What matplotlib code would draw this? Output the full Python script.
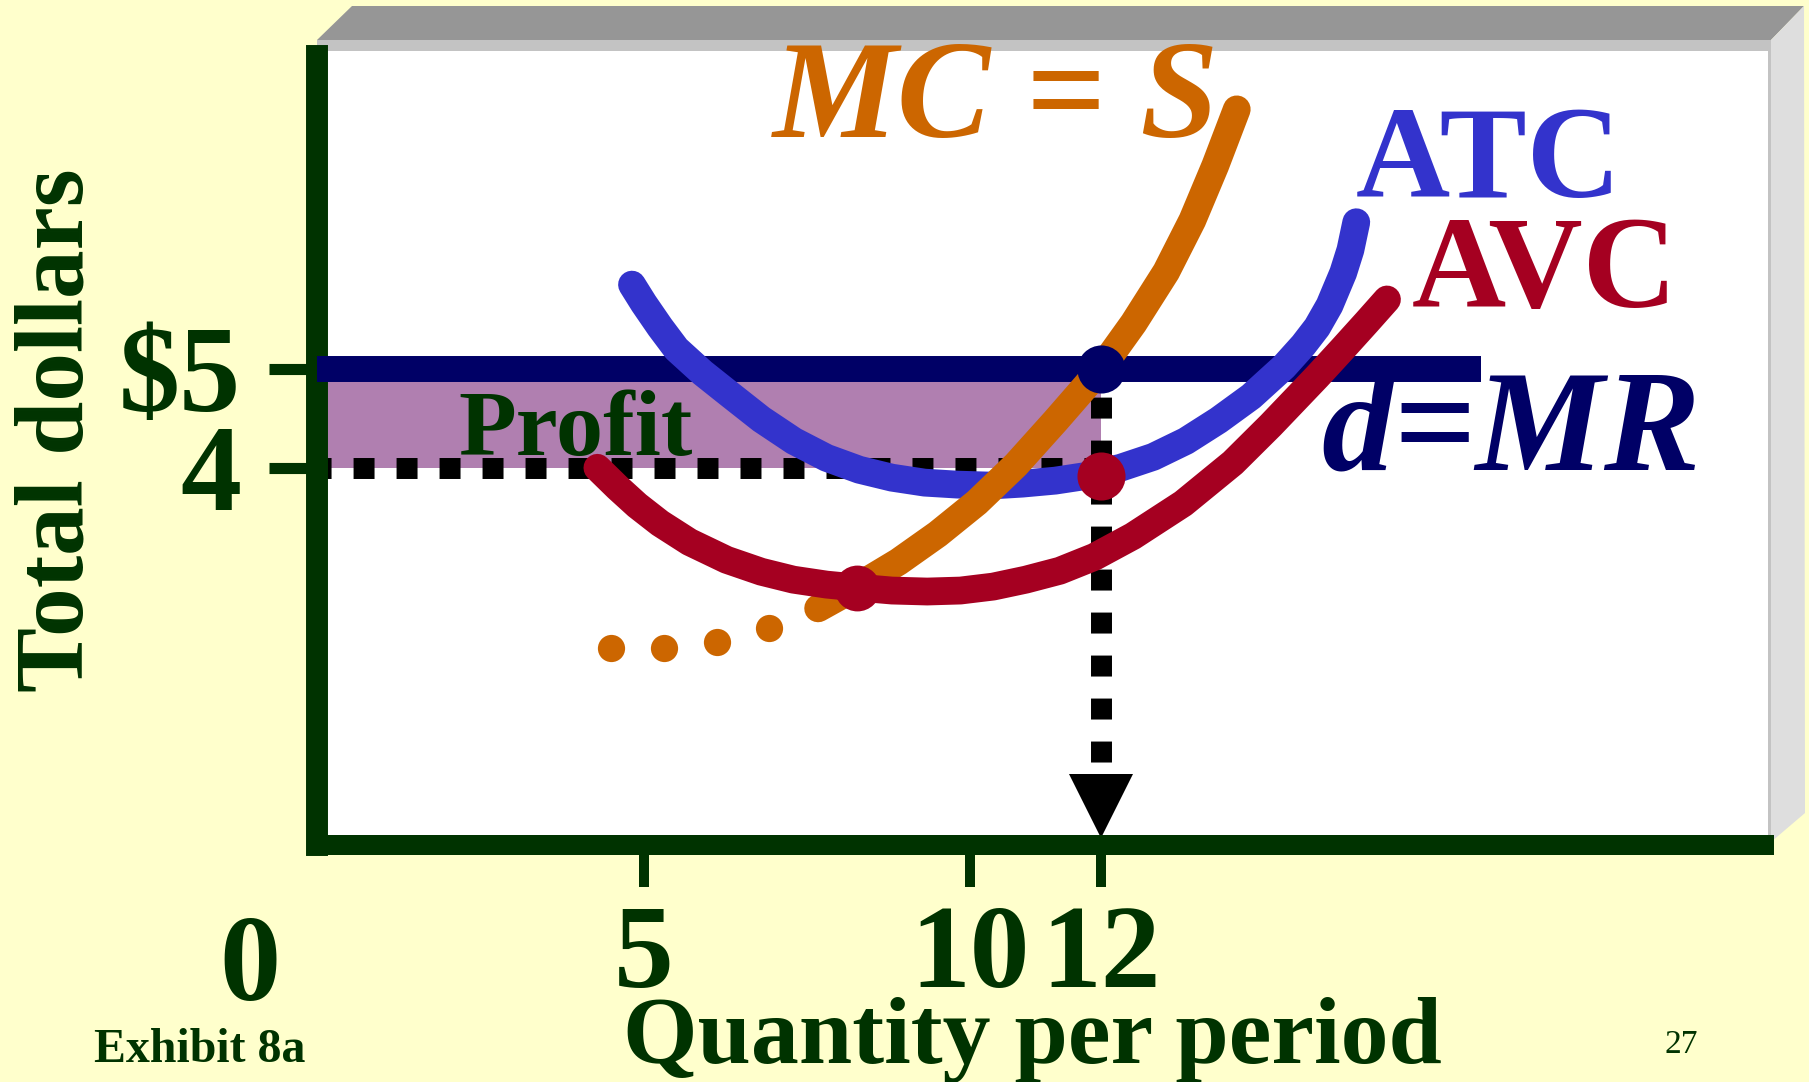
"""Exhibit 8a: short-run profit for a perfectly competitive firm.

Draws MC = S, ATC and AVC against the d = MR price line, shades the
profit rectangle and marks the profit-maximising output.
"""

import matplotlib
matplotlib.use("Agg")
import matplotlib.pyplot as plt
from matplotlib.patches import Polygon, Rectangle
from matplotlib.transforms import Affine2D

plt.rcParams["font.family"] = ["Liberation Serif", "DejaVu Serif"]

W, H = 1809, 1082

BG      = "#ffffcc"
GREEN   = "#003300"
NAVY    = "#000066"
BLUE    = "#3333cc"
CRIMSON = "#a50021"
ORANGE  = "#cc6600"
PURPLE  = "#b07fb0"

# market price (d = MR) and the chosen output
price   = 5.0
q_star  = 12
mr_end  = 17.82
atc_at_q = 3.92
avc_min_q, avc_min_p = 8.27, 2.79

# marginal cost: dotted lower stretch, then the solid supply part
mc_dot_q = [4.50, 5.31, 6.12, 6.92]
mc_dot_p = [2.18, 2.18, 2.24, 2.38]
mc_q = [7.67, 8.27, 8.90, 9.50, 10.10, 10.70, 11.30, 12.00, 12.50, 13.00, 13.40, 13.75, 14.08]
mc_p = [2.58, 2.80, 3.05, 3.33, 3.65, 4.03, 4.47, 5.00, 5.46, 5.98, 6.50, 7.05, 7.62]

# average total cost
atc_q = [4.82, 5.00, 5.25, 5.50, 5.90, 6.30, 6.80, 7.30, 7.80, 8.30, 8.80, 9.30, 9.80,
         10.30, 10.80, 11.30, 11.80, 12.30, 12.80, 13.30, 13.80, 14.30, 14.80, 15.10,
         15.31, 15.50, 15.71, 15.82, 15.91]
atc_p = [5.85, 5.66, 5.42, 5.20, 4.96, 4.75, 4.49, 4.27, 4.10, 3.98, 3.90, 3.85, 3.83,
         3.82, 3.84, 3.87, 3.92, 4.00, 4.11, 4.27, 4.48, 4.72, 5.02, 5.24,
         5.42, 5.64, 5.97, 6.20, 6.48]

# average variable cost
avc_q = [4.29, 4.60, 4.90, 5.25, 5.70, 6.27, 6.80, 7.29, 7.80, 8.27, 8.80, 9.34, 9.85,
         10.35, 10.85, 11.37, 11.90, 12.49, 13.26, 14.02, 14.60, 15.31, 15.70, 16.07, 16.38]
avc_p = [4.00, 3.80, 3.62, 3.44, 3.25, 3.07, 2.95, 2.87, 2.82, 2.79, 2.76, 2.75, 2.76,
         2.80, 2.87, 2.96, 3.10, 3.31, 3.64, 4.05, 4.43, 4.92, 5.20, 5.47, 5.70]

x_ticks  = [5, 10, 12]
x_labels = ["5", "10", "12"]
y_ticks  = [4, 5]
y_labels = ["4", "$5"]

fig = plt.figure(figsize=(W / 100, H / 100), dpi=100, facecolor=BG)

# pixel coordinates measured from the top-left corner
px = Affine2D().scale(1 / W, -1 / H).translate(0, 1) + fig.transFigure

# --- 3-D panel behind the graph ---
fig.add_artist(Polygon([(317, 40), (352, 6), (1804, 6), (1771, 40)], closed=True,
                       transform=px, facecolor="#969696", edgecolor="none", zorder=-3))
fig.add_artist(Polygon([(1771, 40), (1804, 6), (1805, 813), (1771, 842)], closed=True,
                       transform=px, facecolor="#dedede", edgecolor="none", zorder=-3))
fig.add_artist(Rectangle((317, 40), 1454, 805, transform=px,
                         facecolor="#c3c3c3", edgecolor="none", zorder=-3))
fig.add_artist(Rectangle((317, 51), 1451, 794, transform=px,
                         facecolor="white", edgecolor="none", zorder=-2))

ax = fig.add_axes([317.2 / W, (H - 845) / H, (1771 - 317.2) / W, 800 / H])
ax.set_facecolor("none")
ax.set_xlim(0, 22.26)
ax.set_ylim(0.19, 8.27)

# spines have projecting caps, so the bounds stop half a line short
for side in ("top", "right"):
    ax.spines[side].set_visible(False)
ax.spines["left"].set_linewidth(15.8)
ax.spines["left"].set_color(GREEN)
ax.spines["left"].set_bounds(0.19, 8.16)
ax.spines["bottom"].set_linewidth(14.4)
ax.spines["bottom"].set_color(GREEN)
ax.spines["bottom"].set_bounds(0.03, 22.15)

ax.set_xticks(x_ticks, x_labels, fontsize=86, fontweight="bold", color=GREEN)
ax.set_yticks(y_ticks, y_labels, fontsize=88, fontweight="bold", color=GREEN)
ax.tick_params(axis="x", direction="out", length=30, width=7.2, color=GREEN, pad=13)
ax.tick_params(axis="y", direction="out", length=34.6, width=8, color=GREEN, pad=20)

# profit area and guide lines
ax.add_patch(Rectangle((0, 4), q_star, price - 4, facecolor=PURPLE, edgecolor="none", zorder=1))
ax.plot([0, q_star], [4, 4], color="black", lw=15.1,
        linestyle=(0.33, (1, 1.05)), dash_capstyle="butt", zorder=2)
ax.plot([q_star, q_star], [price, 0.90], color="black", lw=15.1,
        linestyle=(0.71, (1, 1.05)), dash_capstyle="butt", zorder=2)
ax.plot([q_star], [0.58], marker="v", markersize=45.4, color="black", mew=0, zorder=2)

# d = MR
ax.plot([0, mr_end], [price, price], color=NAVY, lw=18.7, solid_capstyle="butt", zorder=3)

# cost curves
curve_kw = dict(lw=20, solid_capstyle="round", solid_joinstyle="round")
ax.plot(atc_q, atc_p, color=BLUE, zorder=4, **curve_kw)
ax.plot(mc_q, mc_p, color=ORANGE, zorder=5, **curve_kw)
ax.plot(mc_dot_q, mc_dot_p, "o", ms=19.6, color=ORANGE, mew=0, zorder=5)
ax.plot(avc_q, avc_p, color=CRIMSON, zorder=6, **curve_kw)

# key points
ax.plot([q_star], [price], "o", ms=34.6, color=NAVY, mew=0, zorder=7)
ax.plot([q_star], [atc_at_q], "o", ms=34.6, color=CRIMSON, mew=0, zorder=7)
ax.plot([avc_min_q], [avc_min_p], "o", ms=33, color=CRIMSON, mew=0, zorder=7)

# curve labels
ax.text(10.40, 7.34, "MC = S", color=ORANGE, fontsize=101, fontweight="bold",
        fontstyle="italic", ha="center", va="baseline", zorder=8)
ax.text(17.93, 6.73, "ATC", color=BLUE, fontsize=94, fontweight="bold",
        ha="center", va="baseline", zorder=8)
ax.text(18.80, 5.62, "AVC", color=CRIMSON, fontsize=94, fontweight="bold",
        ha="center", va="baseline", zorder=8)
ax.text(18.28, 3.98, "d=MR", color=NAVY, fontsize=104, fontweight="bold",
        fontstyle="italic", ha="center", va="baseline", zorder=8)
ax.text(3.96, 4.13, "Profit", color=GREEN, fontsize=68, fontweight="bold",
        ha="center", va="baseline", zorder=8)

# axis titles and slide furniture
fig.text(83, 430, "Total dollars", transform=px, color=GREEN, fontsize=70,
         fontweight="bold", rotation=90, rotation_mode="anchor",
         ha="center", va="baseline")
fig.text(250, 1000, "0", transform=px, color=GREEN, fontsize=88,
         fontweight="bold", ha="center", va="baseline")
fig.text(1032, 1063, "Quantity per period", transform=px, color=GREEN,
         fontsize=69, fontweight="bold", ha="center", va="baseline")
fig.text(200, 1062, "Exhibit 8a", transform=px, color=GREEN, fontsize=34.5,
         fontweight="bold", ha="center", va="baseline")
fig.text(1681, 1053, "27", transform=px, color=GREEN, fontsize=24,
         ha="center", va="baseline")

fig.savefig("out.png", dpi=100, facecolor=BG)
